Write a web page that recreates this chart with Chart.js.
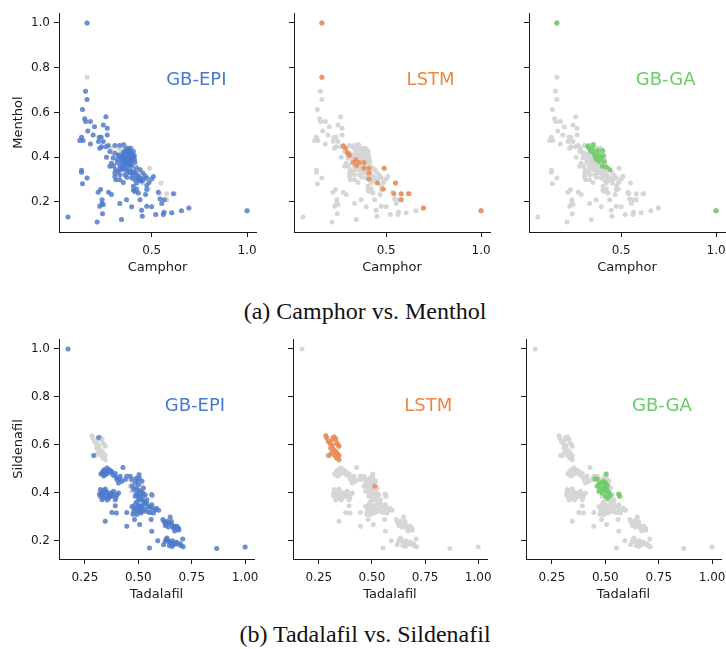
<!DOCTYPE html>
<html><head><meta charset="utf-8">
<script src="https://cdn.jsdelivr.net/npm/chart.js@4.4.1/dist/chart.umd.min.js"></script>
<style>
html,body{margin:0;padding:0;background:#fff;width:726px;height:649px;overflow:hidden;position:relative}
canvas{position:absolute}
.cap{position:absolute;left:2px;width:726px;text-align:center;font-family:"Liberation Serif","Times New Roman",serif;font-size:24px;line-height:24px;color:#111;white-space:nowrap}
</style></head><body>
<div class="cap" style="top:299px">(a) Camphor vs. Menthol</div>
<div class="cap" style="top:622px">(b) Tadalafil vs. Sildenafil</div>
<canvas id="c0"></canvas><canvas id="c1"></canvas><canvas id="c2"></canvas>
<canvas id="c3"></canvas><canvas id="c4"></canvas><canvas id="c5"></canvas>
<script>
// ---------- data: (a) Camphor (x) vs. Menthol (y) ----------
const camphorMentholEpi = [[0.161,1.000],[0.153,0.695],[0.161,0.658],[0.137,0.613],[0.149,0.572],[0.154,0.559],[0.179,0.559],[0.165,0.517],[0.200,0.536],[0.260,0.581],[0.193,0.499],[0.246,0.544],[0.267,0.529],[0.132,0.489],[0.123,0.474],[0.140,0.474],[0.179,0.459],[0.225,0.489],[0.235,0.489],[0.267,0.499],[0.221,0.470],[0.246,0.470],[0.237,0.447],[0.260,0.447],[0.272,0.452],[0.307,0.452],[0.333,0.452],[0.354,0.455],[0.365,0.436],[0.281,0.425],[0.307,0.418],[0.325,0.410],[0.347,0.410],[0.377,0.410],[0.389,0.425],[0.404,0.425],[0.409,0.406],[0.412,0.376],[0.228,0.440],[0.263,0.400],[0.289,0.373],[0.281,0.359],[0.298,0.396],[0.319,0.376],[0.333,0.361],[0.342,0.376],[0.354,0.366],[0.368,0.373],[0.386,0.381],[0.395,0.359],[0.345,0.395],[0.355,0.390],[0.362,0.400],[0.372,0.385],[0.380,0.395],[0.390,0.400],[0.395,0.390],[0.365,0.370],[0.375,0.360],[0.385,0.365],[0.352,0.380],[0.340,0.390],[0.370,0.420],[0.380,0.430],[0.395,0.415],[0.405,0.400],[0.360,0.350],[0.350,0.345],[0.345,0.355],[0.350,0.420],[0.360,0.425],[0.375,0.440],[0.390,0.440],[0.400,0.410],[0.385,0.420],[0.360,0.385],[0.375,0.375],[0.390,0.370],[0.400,0.385],[0.410,0.390],[0.370,0.395],[0.355,0.400],[0.330,0.405],[0.320,0.390],[0.300,0.360],[0.310,0.345],[0.335,0.345],[0.370,0.340],[0.390,0.330],[0.420,0.310],[0.430,0.300],[0.400,0.320],[0.325,0.336],[0.307,0.329],[0.333,0.321],[0.360,0.321],[0.377,0.332],[0.404,0.336],[0.421,0.351],[0.439,0.344],[0.453,0.329],[0.465,0.317],[0.474,0.307],[0.486,0.287],[0.500,0.302],[0.509,0.314],[0.415,0.330],[0.425,0.320],[0.435,0.310],[0.445,0.305],[0.385,0.340],[0.370,0.310],[0.307,0.314],[0.312,0.299],[0.333,0.299],[0.351,0.287],[0.395,0.307],[0.412,0.299],[0.421,0.284],[0.439,0.296],[0.447,0.292],[0.456,0.299],[0.404,0.270],[0.421,0.258],[0.404,0.252],[0.430,0.240],[0.412,0.247],[0.474,0.273],[0.474,0.255],[0.132,0.341],[0.132,0.333],[0.161,0.307],[0.137,0.281],[0.219,0.243],[0.232,0.255],[0.240,0.210],[0.239,0.193],[0.246,0.188],[0.228,0.181],[0.242,0.147],[0.214,0.110],[0.061,0.132],[0.274,0.243],[0.289,0.233],[0.333,0.193],[0.368,0.210],[0.395,0.178],[0.439,0.210],[0.468,0.233],[0.447,0.163],[0.451,0.136],[0.474,0.181],[0.500,0.178],[0.535,0.243],[0.544,0.213],[0.553,0.193],[0.567,0.210],[0.521,0.144],[0.561,0.144],[0.565,0.154],[0.605,0.151],[0.614,0.237],[0.656,0.161],[0.695,0.173],[1.000,0.161],[0.342,0.121]];
const camphorMentholLstm = [[0.161,1.000],[0.161,0.757],[0.274,0.450],[0.285,0.440],[0.295,0.421],[0.301,0.413],[0.306,0.407],[0.327,0.376],[0.339,0.388],[0.344,0.363],[0.357,0.376],[0.383,0.376],[0.383,0.351],[0.409,0.351],[0.409,0.329],[0.409,0.302],[0.453,0.284],[0.484,0.258],[0.489,0.351],[0.549,0.284],[0.540,0.237],[0.579,0.237],[0.579,0.210],[0.619,0.237],[0.696,0.173],[1.000,0.161]];
const camphorMentholGa = [[0.161,1.000],[0.323,0.450],[0.330,0.440],[0.352,0.455],[0.339,0.425],[0.357,0.418],[0.375,0.430],[0.401,0.430],[0.383,0.410],[0.405,0.406],[0.362,0.403],[0.369,0.391],[0.383,0.381],[0.410,0.381],[0.401,0.359],[0.422,0.356],[0.440,0.344],[0.392,0.396],[0.348,0.436],[1.000,0.161]];

// ---------- data: (b) Tadalafil (x) vs. Sildenafil (y) ----------
const tadalafilSildenafilBase = [[0.171,1.000],[0.330,0.482],[0.340,0.496],[0.353,0.503],[0.365,0.496],[0.376,0.489],[0.345,0.475],[0.392,0.480],[0.400,0.462],[0.415,0.469],[0.428,0.505],[0.439,0.455],[0.446,0.469],[0.462,0.469],[0.470,0.455],[0.423,0.448],[0.407,0.441],[0.503,0.475],[0.335,0.490],[0.348,0.487],[0.358,0.492],[0.370,0.485],[0.325,0.478],[0.338,0.470],[0.355,0.480],[0.380,0.475],[0.390,0.470],[0.400,0.455],[0.413,0.457],[0.322,0.413],[0.334,0.399],[0.345,0.416],[0.356,0.399],[0.369,0.392],[0.384,0.406],[0.400,0.392],[0.330,0.371],[0.340,0.378],[0.361,0.378],[0.376,0.385],[0.392,0.371],[0.407,0.399],[0.322,0.385],[0.328,0.400],[0.338,0.410],[0.350,0.405],[0.362,0.390],[0.372,0.400],[0.382,0.395],[0.395,0.380],[0.345,0.385],[0.355,0.370],[0.368,0.385],[0.318,0.395],[0.330,0.390],[0.392,0.346],[0.376,0.318],[0.397,0.315],[0.446,0.318],[0.345,0.281],[0.446,0.260],[0.470,0.427],[0.485,0.441],[0.501,0.434],[0.517,0.448],[0.478,0.413],[0.493,0.399],[0.512,0.406],[0.524,0.420],[0.485,0.385],[0.501,0.371],[0.521,0.385],[0.532,0.392],[0.540,0.371],[0.563,0.392],[0.490,0.460],[0.495,0.450],[0.505,0.460],[0.490,0.420],[0.500,0.410],[0.510,0.395],[0.520,0.400],[0.495,0.390],[0.505,0.380],[0.515,0.370],[0.525,0.365],[0.490,0.360],[0.500,0.350],[0.510,0.345],[0.525,0.350],[0.540,0.355],[0.555,0.340],[0.490,0.330],[0.505,0.325],[0.520,0.330],[0.535,0.330],[0.545,0.320],[0.565,0.335],[0.585,0.335],[0.480,0.335],[0.475,0.310],[0.500,0.320],[0.470,0.343],[0.485,0.350],[0.501,0.336],[0.517,0.343],[0.532,0.357],[0.548,0.343],[0.563,0.350],[0.579,0.329],[0.595,0.327],[0.478,0.322],[0.493,0.309],[0.512,0.315],[0.524,0.322],[0.556,0.318],[0.571,0.315],[0.482,0.288],[0.506,0.267],[0.560,0.288],[0.563,0.239],[0.615,0.288],[0.626,0.277],[0.637,0.281],[0.649,0.299],[0.657,0.267],[0.665,0.260],[0.677,0.249],[0.688,0.253],[0.626,0.263],[0.641,0.257],[0.620,0.280],[0.632,0.270],[0.645,0.275],[0.655,0.280],[0.662,0.255],[0.672,0.258],[0.680,0.260],[0.690,0.245],[0.670,0.240],[0.634,0.211],[0.641,0.201],[0.652,0.190],[0.665,0.183],[0.680,0.193],[0.696,0.187],[0.708,0.207],[0.618,0.183],[0.626,0.197],[0.657,0.176],[0.630,0.205],[0.645,0.195],[0.660,0.200],[0.672,0.190],[0.685,0.185],[0.700,0.180],[0.710,0.175],[0.660,0.185],[0.645,0.180],[0.591,0.200],[0.552,0.169],[0.867,0.167],[1.000,0.174]];
const tadalafilSildenafilEpiExtra = [[0.314,0.631],[0.291,0.555]];
const tadalafilSildenafilLstm = [[0.283,0.638],[0.287,0.629],[0.294,0.615],[0.303,0.605],[0.314,0.622],[0.322,0.633],[0.330,0.624],[0.334,0.608],[0.340,0.601],[0.345,0.594],[0.306,0.587],[0.319,0.580],[0.330,0.573],[0.337,0.563],[0.345,0.555],[0.309,0.566],[0.325,0.555],[0.334,0.545],[0.345,0.538],[0.298,0.555],[0.314,0.597],[0.514,0.427]];
const tadalafilSildenafilGa = [[0.451,0.457],[0.462,0.457],[0.504,0.478],[0.462,0.427],[0.470,0.438],[0.481,0.443],[0.493,0.448],[0.501,0.441],[0.509,0.430],[0.478,0.420],[0.493,0.413],[0.509,0.406],[0.517,0.399],[0.501,0.385],[0.512,0.378],[0.524,0.388],[0.485,0.399],[0.470,0.406],[0.563,0.395],[0.567,0.385],[0.496,0.427],[0.506,0.416]];

// ---------- ticks / labels ----------
const xTicksA = [0.5, 1.0], xTickLabelsA = ['0.5', '1.0'];
const xTicksB = [0.25, 0.5, 0.75, 1.0], xTickLabelsB = ['0.25', '0.50', '0.75', '1.00'];
const yTicks = [0.2, 0.4, 0.6, 0.8, 1.0], yTickLabels = ['0.2', '0.4', '0.6', '0.8', '1.0'];
const methods = ['GB-EPI', 'LSTM', 'GB-GA'];
const methodColors = ['#4878d0', '#ee854a', '#6acc64'];
const pointColors = ['rgba(72,120,208,0.75)', 'rgba(238,133,74,0.8)', 'rgba(106,204,100,0.85)'];
const greyColor = 'rgba(214,214,214,1)';

const cmAll = [...camphorMentholEpi, ...camphorMentholLstm, ...camphorMentholGa];
const tsEpi = [...tadalafilSildenafilBase, ...tadalafilSildenafilEpiExtra];
const tsAll = [...tsEpi, ...tadalafilSildenafilLstm, ...tadalafilSildenafilGa];

const rows = [
  {xMin:0.014, xMax:1.047, yMin:0.0655, yMax:1.0445, xTicks:xTicksA, xLabels:xTickLabelsA, xTitle:'Camphor', yTitle:'Menthol', all:cmAll, hl:[camphorMentholEpi, camphorMentholLstm, camphorMentholGa]},
  {xMin:0.1285, xMax:1.0415, yMin:0.1235, yMax:1.0415, xTicks:xTicksB, xLabels:xTickLabelsB, xTitle:'Tadalafil', yTitle:'Sildenafil', all:tsAll, hl:[tsEpi, tadalafilSildenafilLstm, tadalafilSildenafilGa]}
];
const geo = [
  {L:59,T:13,R:256,B:232},{L:294,T:13,R:490,B:232},{L:529,T:13,R:725,B:232},
  {L:59,T:339,R:254,B:559},{L:293,T:339,R:487,B:559},{L:526,T:339,R:721,B:559}
];
const YW = 59, PT = 13, PR = 16, XH = 58;
const dark = '#1a1a1a';
Chart.defaults.font.family = '"DejaVu Sans", sans-serif';
Chart.defaults.color = dark;

const toPts = arr => arr.map(p => ({x:p[0], y:p[1]}));

const labelPlugin = {
  id:'methodLabel',
  afterDatasetsDraw(chart, args, opts) {
    const a = chart.chartArea, ctx = chart.ctx;
    ctx.save();
    ctx.font = '18px "DejaVu Sans", sans-serif';
    ctx.fillStyle = opts.color;
    ctx.textAlign = 'center';
    ctx.textBaseline = 'alphabetic';
    ctx.fillText(opts.text, a.left + 0.697*(a.right-a.left), a.top + 0.297*(a.bottom-a.top) + 6.6);
    ctx.restore();
  }
};

for (let i = 0; i < 6; i++) {
  const r = rows[Math.floor(i/3)], m = i % 3, g = geo[i];
  const cv = document.getElementById('c'+i);
  cv.width = g.R - g.L + YW + PR;
  cv.height = g.B - g.T + PT + XH;
  cv.style.left = (g.L - YW) + 'px';
  cv.style.top = (g.T - PT) + 'px';
  new Chart(cv, {
    type:'scatter',
    data:{datasets:[
      {data:toPts(r.hl[m]), backgroundColor:pointColors[m], borderWidth:0, pointRadius:2.5, pointHoverRadius:2.5},
      {data:toPts(r.all), backgroundColor:greyColor, borderWidth:0, pointRadius:2.5, pointHoverRadius:2.5}
    ]},
    options:{
      responsive:false, animation:false, events:[],
      layout:{padding:{left:0, top:PT, right:PR, bottom:0}},
      plugins:{legend:{display:false}, tooltip:{enabled:false}, methodLabel:{text:methods[m], color:methodColors[m]}},
      scales:{
        x:{type:'linear', min:r.xMin, max:r.xMax,
          afterBuildTicks:s => { s.ticks = r.xTicks.map(v => ({value:v})); },
          afterFit:s => { s.height = XH; },
          ticks:{callback:(v, idx) => r.xLabels[idx], font:{size:12}, padding:6.5, maxRotation:0, autoSkip:false, color:dark},
          grid:{drawOnChartArea:false, drawTicks:true, tickLength:5, color:dark, lineWidth:1},
          border:{display:true, color:dark, width:1},
          title:{display:true, text:r.xTitle, font:{size:13}, color:dark, padding:{top:0, bottom:15}}
        },
        y:{type:'linear', min:r.yMin, max:r.yMax,
          afterBuildTicks:s => { s.ticks = yTicks.map(v => ({value:v})); },
          afterFit:s => { s.width = YW; },
          ticks:{callback:(v, idx) => m === 0 ? yTickLabels[idx] : '', font:{size:12}, padding:4, autoSkip:false, color:dark},
          grid:{drawOnChartArea:false, drawTicks:true, tickLength:5, color:dark, lineWidth:1},
          border:{display:true, color:dark, width:1},
          title:{display:m === 0, text:r.yTitle, font:{size:13}, color:dark, padding:{top:11, bottom:0}}
        }
      }
    },
    plugins:[labelPlugin]
  });
}
</script>
</body></html>
